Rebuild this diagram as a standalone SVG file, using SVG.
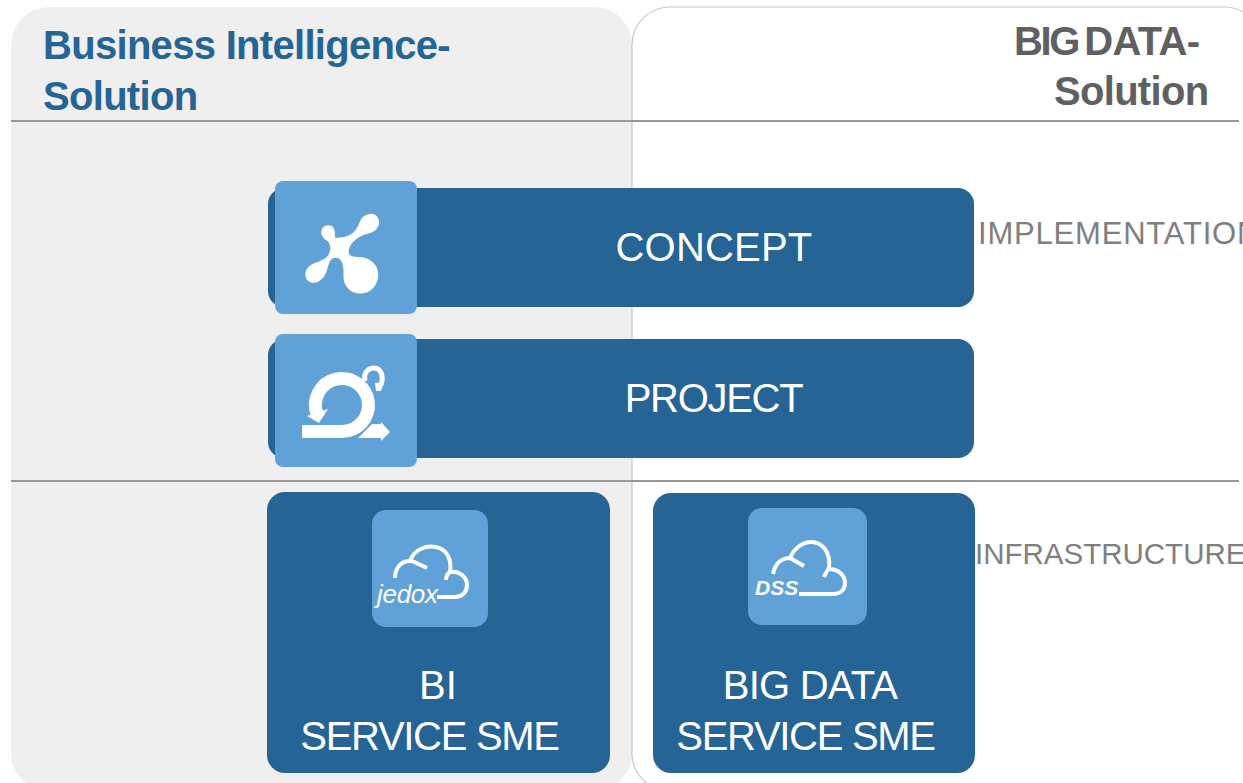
<svg xmlns="http://www.w3.org/2000/svg" width="1243" height="783" viewBox="0 0 1243 783">
<style>
text{font-family:"Liberation Sans",Arial,sans-serif}
.bar{fill:#256494}
.sq{fill:#60A2D7}
.lab{fill:#fff;font-size:40px;text-anchor:middle;letter-spacing:-1.3px}
.side{fill:#7f7f7f;font-size:31px}
.head{font-size:40px;font-weight:bold;letter-spacing:-.7px}
.rule{stroke:#999;stroke-width:2;fill:none}
.cloud{fill:none;stroke:#fff;stroke-width:4}
.ico{fill:#fff}
</style>
<rect width="1243" height="783" fill="#fff"/>
<g id="panel-bi">
<rect x="11" y="7" width="621" height="784" rx="38" fill="#efefef"/>
<text class="head" x="43" y="59" fill="#256494">Business Intelligence-</text>
<text class="head" x="43" y="110" fill="#256494">Solution</text>
</g>
<g id="panel-bigdata">
<rect x="632" y="7" width="630" height="784" rx="38" fill="none" stroke="#c8c8c8" stroke-width="1.2"/>
<text class="head" x="1014" y="55" fill="#606060"><tspan letter-spacing="-2.4">BIG</tspan><tspan dx="-4"> DATA-</tspan></text>
<text class="head" x="1054" y="105" fill="#606060">Solution</text>
</g>
<g id="connectors">
<path class="rule" d="M11 121H1239M11 481H1239"/>
</g>
<g id="concept">
<rect class="bar" x="268" y="188" width="706" height="119" rx="16"/>
<rect class="sq" x="275" y="181" width="142" height="133" rx="8"/>
<path class="ico" stroke="#fff" stroke-width="5" transform="translate(260 170) scale(.3333)" d="M205 168C218 168 225 178 222 205C235 207 255 205 270 197C285 190 295 175 302 155C310 135 340 125 352 145C362 165 345 185 325 188C300 192 268 215 264 240C262 255 268 262 290 263C330 263 352 285 352 315C352 345 330 368 300 368C272 368 252 345 253 318C254 290 250 262 228 261C205 261 203 285 197 305C190 325 170 340 155 335C135 330 133 305 150 290C165 275 195 280 208 255C216 238 218 225 205 212C190 205 180 190 190 175C193 170 198 168 205 168Z"/>
<text class="lab" x="714" y="261" style="letter-spacing:.2px">CONCEPT</text>
</g>
<g id="project">
<rect class="bar" x="268" y="339" width="706" height="119" rx="16"/>
<rect class="sq" x="275" y="334" width="142" height="133" rx="8"/>
<path fill="none" stroke="#fff" stroke-width="13" d="M302 431.500H341.500A26.500 26.500 0 1 0 317 414"/>
<path class="ico" d="M307 416L328 409L319 423Z"/>
<path fill="none" stroke="#fff" stroke-width="5" d="M365 381C363 372 369 368 374 368C381 368 384 376 381 385"/>
<path class="ico" d="M375 383L384 382L381 391L376 391Z"/>
<path class="ico" d="M358 438L372 424H381V422L390 432L381 441V438Z"/>
<text class="lab" x="713.500" y="412">PROJECT</text>
</g>
<g id="bi-service">
<rect class="bar" x="267" y="492" width="343" height="281" rx="18"/>
<rect class="sq" x="372" y="510" width="116" height="117" rx="14"/>
<path class="cloud" d="M395 578C395 568 401 561 410 561C414 549 427 545 436 547C447 549 452 560 450 572C447 574 446 577 446 580M410 560L427 568M450 572C460 570 467 578 467 585C467 592 462 597 455 597H437"/>
<text x="377" y="603" fill="#fff" font-size="26" font-style="italic" letter-spacing="-.3">jedox</text>
<text class="lab" x="438" y="699" style="letter-spacing:0">BI</text>
<text class="lab" x="429.500" y="750">SERVICE SME</text>
</g>
<g id="bigdata-service">
<rect class="bar" x="653" y="493" width="322" height="280" rx="18"/>
<rect class="sq" x="748" y="508" width="119" height="117" rx="14"/>
<path class="cloud" d="M773 574C775 564 781 558 790 558C794 548 803 542 811 542C822 542 831 552 829 568C827 571 825 574 824 577M790 558L804 566M829 569C838 569 845 575 845 583C845 590 840 594 833 594H799"/>
<text x="755" y="595" fill="#fff" font-size="21" font-weight="bold" font-style="italic">DSS</text>
<text class="lab" x="810" y="699" style="letter-spacing:-.8px">BIG DATA</text>
<text class="lab" x="805.500" y="750">SERVICE SME</text>
</g>
<g id="labels">
<text class="side" x="978" y="244" letter-spacing=".8">IMPLEMENTATION</text>
<text class="side" x="975" y="564" style="font-size:29.500px">INFRASTRUCTURE</text>
</g>
</svg>
